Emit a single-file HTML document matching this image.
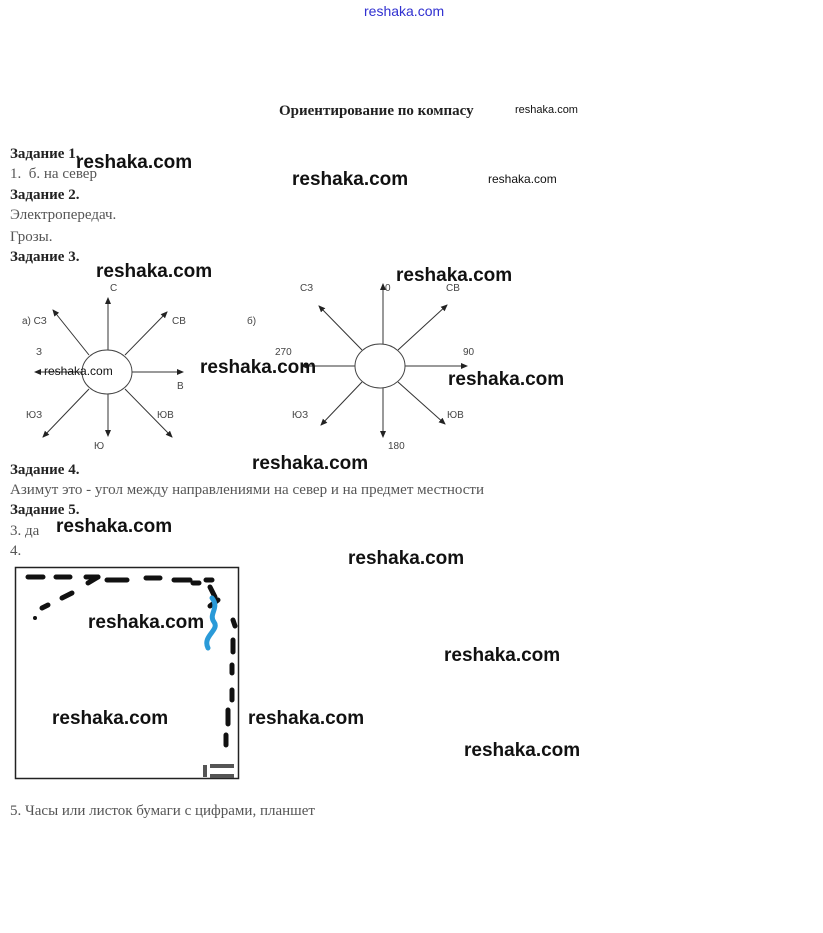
<!DOCTYPE html>
<html><head><meta charset="utf-8"><style>
body{margin:0;background:#fff;width:823px;height:933px;position:relative;overflow:hidden;font-family:"Liberation Serif",serif;}
.t{position:absolute;font-size:15px;color:#555;white-space:nowrap;line-height:1}
.b{font-weight:bold;color:#222}
.w{position:absolute;font-family:"Liberation Sans",sans-serif;font-size:19px;font-weight:bold;color:#111;white-space:nowrap;line-height:1;z-index:2}
.s{font-size:12px;font-weight:normal}
</style></head><body>
<div class="w s" style="left:364px;top:4px;color:#3030d0;font-size:14px">reshaka.com</div>
<div class="t b" style="left:279px;top:104px;font-size:15px">Ориентирование по компасу</div>
<div class="w s" style="left:515px;top:105px;font-size:11px">reshaka.com</div>
<div class="t b" style="left:10px;top:147px">Задание 1.</div>
<div class="t" style="left:10px;top:167px">1.&nbsp; б. на север</div>
<div class="t b" style="left:10px;top:188px">Задание 2.</div>
<div class="t" style="left:10px;top:208px">Электропередач.</div>
<div class="t" style="left:10px;top:230px">Грозы.</div>
<div class="t b" style="left:10px;top:250px">Задание 3.</div>
<div class="w" style="left:76px;top:153px">reshaka.com</div>
<div class="w" style="left:292px;top:170px">reshaka.com</div>
<div class="w s" style="left:488px;top:173px">reshaka.com</div>
<div class="w" style="left:96px;top:262px">reshaka.com</div>
<div class="w" style="left:396px;top:266px">reshaka.com</div>
<div class="w" style="left:200px;top:358px">reshaka.com</div>
<div class="w" style="left:448px;top:370px">reshaka.com</div>
<div class="w s" style="left:44px;top:365px">reshaka.com</div>
<svg style="position:absolute;left:0;top:0;z-index:1" width="823" height="933">
<defs><marker id="a" markerWidth="8" markerHeight="8" refX="6" refY="3" orient="auto"><path d="M0,0 L7,3 L0,6z" fill="#222"/></marker></defs>
<g stroke="#333" stroke-width="1" fill="none" marker-end="url(#a)">
<line x1="108" y1="350" x2="108" y2="298"/><line x1="108" y1="394" x2="108" y2="436"/>
<line x1="132" y1="372" x2="183" y2="372"/><line x1="82" y1="372" x2="35" y2="372"/>
<line x1="125" y1="355" x2="167" y2="312"/><line x1="89" y1="355" x2="53" y2="310"/>
<line x1="89" y1="389" x2="43" y2="437"/><line x1="125" y1="389" x2="172" y2="437"/>
<line x1="383" y1="344" x2="383" y2="284"/><line x1="383" y1="388" x2="383" y2="437"/>
<line x1="405" y1="366" x2="467" y2="366"/><line x1="355" y1="366" x2="302" y2="366"/>
<line x1="398" y1="350" x2="447" y2="305"/><line x1="362" y1="350" x2="319" y2="306"/>
<line x1="362" y1="382" x2="321" y2="425"/><line x1="398" y1="382" x2="445" y2="424"/>
</g>
<ellipse cx="107" cy="372" rx="25" ry="22" fill="none" stroke="#444"/>
<ellipse cx="380" cy="366" rx="25" ry="22" fill="none" stroke="#444"/>
<g font-family="Liberation Sans" font-size="10" fill="#444">
<text x="110" y="291">С</text><text x="22" y="324">а) СЗ</text><text x="172" y="324">СВ</text><text x="36" y="355">З</text><text x="177" y="389">В</text><text x="26" y="418">ЮЗ</text><text x="157" y="418">ЮВ</text><text x="94" y="449">Ю</text>
<text x="300" y="291">СЗ</text><text x="385" y="291">0</text><text x="446" y="291">СВ</text><text x="247" y="324">б)</text><text x="275" y="355">270</text><text x="463" y="355">90</text><text x="292" y="418">ЮЗ</text><text x="447" y="418">ЮВ</text><text x="388" y="449">180</text>
</g>
<rect x="15.5" y="567.5" width="223" height="211" fill="none" stroke="#222" stroke-width="1.5"/>
<g stroke="#111" stroke-width="5" stroke-linecap="round" fill="none">
<path d="M28 577h15M56 577h14M86 577h12M107 580h20M146 578h14M174 580h16M193 583h6M206 580h6"/>
<path d="M88 583l10-6M72 593l-10 5M48 605l-6 3"/>
<path d="M233 620l2 6M233 640v12M232 665v8M232 690v10M228 710v14M226 735v10"/>
<path d="M210 587l5 10M218 600l-8 6"/>
</g>
<circle cx="35" cy="618" r="2" fill="#111"/>
<path d="M212 598c8 10-4 16 2 24s-12 14-6 26" stroke="#2a9ad8" stroke-width="5" fill="none" stroke-linecap="round"/>
<path d="M205 765v12M210 766h24M210 776h24" stroke="#555" stroke-width="4" fill="none"/>
</svg>
<div class="t b" style="left:10px;top:463px">Задание 4.</div>
<div class="t" style="left:10px;top:483px">Азимут это - угол между направлениями на север и на предмет местности</div>
<div class="t b" style="left:10px;top:503px">Задание 5.</div>
<div class="t" style="left:10px;top:524px">3. да</div>
<div class="t" style="left:10px;top:544px">4.</div>
<div class="w" style="left:252px;top:454px">reshaka.com</div>
<div class="w" style="left:56px;top:517px">reshaka.com</div>
<div class="w" style="left:348px;top:549px">reshaka.com</div>
<div class="w" style="left:88px;top:613px">reshaka.com</div>
<div class="w" style="left:444px;top:646px">reshaka.com</div>
<div class="w" style="left:52px;top:709px">reshaka.com</div>
<div class="w" style="left:248px;top:709px">reshaka.com</div>
<div class="w" style="left:464px;top:741px">reshaka.com</div>
<div class="t" style="left:10px;top:804px">5. Часы или листок бумаги с цифрами, планшет</div>
</body></html>
